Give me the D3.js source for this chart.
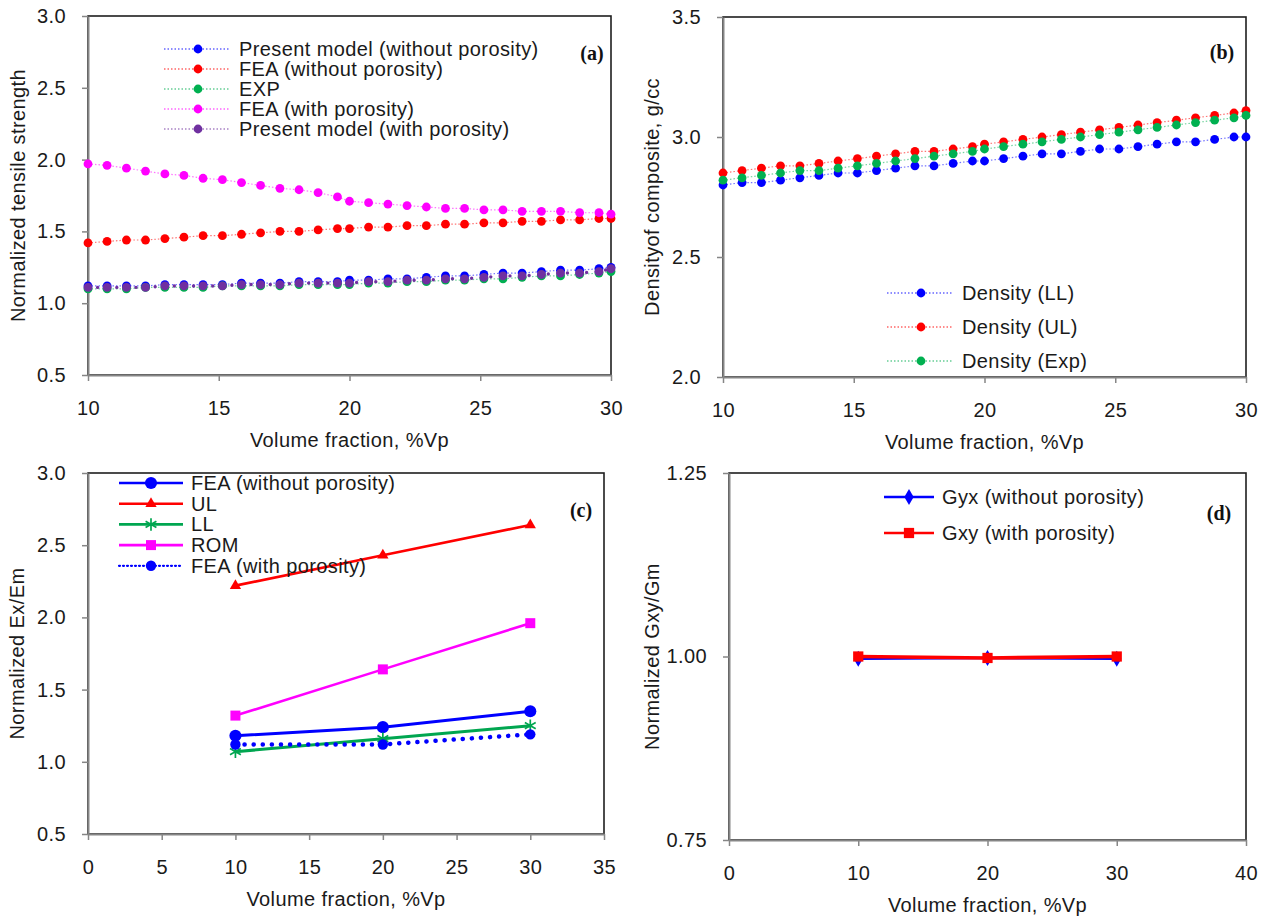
<!DOCTYPE html>
<html lang="en">
<head>
  <meta charset="utf-8" />
  <title>Composite properties vs volume fraction</title>
  <script src="https://cdnjs.cloudflare.com/ajax/libs/d3/7.8.5/d3.min.js"></script>
  <style>
    body { margin: 0; background: #fff; }
    svg { display: block; font-family: "Liberation Sans", Arial, sans-serif; }
  </style>
</head>
<body>
<svg id="chart" width="1270" height="918"></svg>
<script>
  // ---- (a) and (b): volume fractions of the plotted points
  const vfFine = [10, 10.73, 11.47, 12.2, 12.94, 13.67, 14.4, 15.14, 15.87, 16.6, 17.34, 18.07, 18.8, 19.54, 20,
                  20.73, 21.47, 22.2, 22.94, 23.67, 24.4, 25.14, 25.87, 26.6, 27.34, 28.07, 28.8, 29.54, 30];

  // (a) normalized tensile strength
  const modelNoPor = [1.12, 1.12, 1.12, 1.12, 1.13, 1.13, 1.13, 1.13, 1.14, 1.14, 1.14, 1.15, 1.15, 1.15, 1.16,
                      1.16, 1.17, 1.17, 1.18, 1.19, 1.19, 1.20, 1.21, 1.21, 1.22, 1.23, 1.23, 1.24, 1.25];
  const feaNoPorA  = [1.42, 1.43, 1.44, 1.44, 1.45, 1.46, 1.47, 1.47, 1.48, 1.49, 1.50, 1.50, 1.51, 1.52, 1.52,
                      1.53, 1.53, 1.54, 1.54, 1.55, 1.55, 1.56, 1.56, 1.57, 1.57, 1.58, 1.58, 1.59, 1.59];
  const expA       = [1.10, 1.10, 1.10, 1.11, 1.11, 1.11, 1.11, 1.12, 1.12, 1.12, 1.12, 1.13, 1.13, 1.13, 1.13,
                      1.14, 1.14, 1.15, 1.15, 1.16, 1.16, 1.17, 1.17, 1.18, 1.19, 1.19, 1.20, 1.21, 1.22];
  const feaPorA    = [1.97, 1.96, 1.94, 1.92, 1.90, 1.89, 1.87, 1.86, 1.84, 1.82, 1.80, 1.79, 1.77, 1.74, 1.71,
                      1.70, 1.69, 1.68, 1.67, 1.66, 1.66, 1.65, 1.65, 1.64, 1.64, 1.64, 1.63, 1.63, 1.62];
  const modelPor   = [1.11, 1.11, 1.11, 1.11, 1.12, 1.12, 1.12, 1.12, 1.13, 1.13, 1.13, 1.14, 1.14, 1.14, 1.14,
                      1.15, 1.15, 1.16, 1.16, 1.17, 1.17, 1.18, 1.19, 1.19, 1.20, 1.21, 1.21, 1.22, 1.24];

  // (b) density of composite, g/cc
  const densLL  = [2.80, 2.81, 2.81, 2.82, 2.83, 2.84, 2.85, 2.85, 2.86, 2.87, 2.88, 2.88, 2.89, 2.90, 2.90,
                   2.91, 2.92, 2.93, 2.93, 2.94, 2.95, 2.95, 2.96, 2.97, 2.98, 2.98, 2.99, 3.00, 3.00];
  const densUL  = [2.85, 2.86, 2.87, 2.88, 2.88, 2.89, 2.90, 2.91, 2.92, 2.93, 2.94, 2.94, 2.95, 2.96, 2.97,
                   2.98, 2.99, 3.00, 3.01, 3.02, 3.03, 3.04, 3.05, 3.06, 3.07, 3.08, 3.09, 3.10, 3.11];
  const densExp = [2.82, 2.83, 2.84, 2.85, 2.86, 2.86, 2.87, 2.88, 2.89, 2.90, 2.91, 2.92, 2.93, 2.94, 2.95,
                   2.96, 2.97, 2.98, 2.99, 3.00, 3.01, 3.02, 3.03, 3.04, 3.05, 3.06, 3.07, 3.08, 3.09];

  // ---- (c) and (d)
  const vfCoarse = [10, 20, 30];
  const exFeaNoPor = [1.18, 1.24, 1.35];
  const exUL       = [2.22, 2.43, 2.64];
  const exLL       = [1.07, 1.16, 1.25];
  const exROM      = [1.32, 1.64, 1.96];
  const exFeaPor   = [1.12, 1.12, 1.19];
  const gyxNoPor   = [0.997, 0.998, 0.997];
  const gxyPor     = [1.000, 0.998, 1.000];

  const ticksA = [0.5, 1.0, 1.5, 2.0, 2.5, 3.0];
  const ticksB = [2.0, 2.5, 3.0, 3.5];
  const ticksD = [0.75, 1.00, 1.25];
  const xTicksAB = [10, 15, 20, 25, 30];
  const xTicksC = [0, 5, 10, 15, 20, 25, 30, 35];
  const xTicksD = [0, 10, 20, 30, 40];

  const svg = d3.select("#chart");
  const gray = "#868686";
  const ink = "#1a1a1a";

  // shared look of every label in the figure
  function label(sel) {
    return sel.attr("font-size", 20).attr("letter-spacing", 0.4).attr("fill", ink);
  }

  function panel(box, xDom, xTicks, yDom, yTicks, yFmt, yTitle, tag) {
    const x = d3.scaleLinear().domain(xDom).range([box.left, box.right]);
    const y = d3.scaleLinear().domain(yDom).range([box.bottom, box.top]);
    const g = svg.append("g");

    g.append("rect")
      .attr("x", box.left).attr("y", box.top)
      .attr("width", box.right - box.left).attr("height", box.bottom - box.top)
      .attr("fill", "none").attr("stroke", "#1e1e1e").attr("stroke-width", 1.6);

    const ax = g.append("g")
      .attr("transform", "translate(0," + box.bottom + ")")
      .call(d3.axisBottom(x).tickValues(xTicks).tickSize(6).tickSizeOuter(0).tickPadding(20).tickFormat(d3.format("d")));
    const ay = g.append("g")
      .attr("transform", "translate(" + box.left + ",0)")
      .call(d3.axisLeft(y).tickValues(yTicks).tickSize(6).tickSizeOuter(0).tickPadding(16).tickFormat(d3.format(yFmt)));
    [ax, ay].forEach(a => {
      a.select(".domain").attr("stroke", gray).attr("stroke-width", 2);
      a.selectAll(".tick line").attr("stroke", gray).attr("stroke-width", 1.5);
      label(a.selectAll("text")).attr("font-family", null);
    });

    label(g.append("text"))
      .attr("x", (box.left + box.right) / 2)
      .attr("y", box.bottom + 72)
      .attr("text-anchor", "middle")
      .text("Volume fraction, %Vp");

    label(g.append("text"))
      .attr("transform", "translate(" + box.ytx + "," + (box.top + box.bottom) / 2 + ") rotate(-90)")
      .attr("dy", "0.35em")
      .attr("text-anchor", "middle")
      .text(yTitle);

    g.append("text")
      .attr("x", box.tag[0]).attr("y", box.tag[1])
      .attr("dy", "0.35em").attr("text-anchor", "middle")
      .attr("font-family", "'Liberation Serif', 'Times New Roman', serif")
      .attr("font-weight", "bold").attr("font-size", 20).attr("fill", "#111")
      .text(tag);

    return { x, y, g };
  }

  // dotted series with a marker on every point, used in (a) and (b)
  function dottedSeries(p, xs, ys, color, heavy) {
    const pts = xs.map((v, i) => [v, ys[i]]);
    const line = p.g.append("path").datum(pts)
      .attr("d", d3.line().x(d => p.x(d[0])).y(d => p.y(d[1])))
      .attr("fill", "none").attr("stroke", color);
    if (heavy) {
      line.attr("stroke-width", 3.4).attr("stroke-dasharray", "0 9.6").attr("stroke-linecap", "round");
    } else {
      line.attr("stroke-width", 1.2).attr("stroke-dasharray", "1.5 2").attr("opacity", 0.55);
    }
    p.g.selectAll(null).data(pts).join("circle")
      .attr("cx", d => p.x(d[0])).attr("cy", d => p.y(d[1]))
      .attr("r", 4.4).attr("fill", color);
  }

  function dottedLegend(p, items, x0, y0, step) {
    items.forEach((it, i) => {
      const yy = y0 + i * step;
      p.g.append("line")
        .attr("x1", x0).attr("x2", x0 + 66).attr("y1", yy).attr("y2", yy)
        .attr("stroke", it[1]).attr("stroke-width", 1.3).attr("stroke-dasharray", "1.5 2").attr("opacity", 0.6);
      p.g.append("circle").attr("cx", x0 + 34).attr("cy", yy).attr("r", 4.4).attr("fill", it[1]);
      label(p.g.append("text")).attr("x", x0 + 75).attr("y", yy).attr("dy", "0.35em").text(it[0]);
    });
  }

  function sym(type, size) { return d3.symbol().type(type).size(size)(); }

  function solidSeries(p, xs, ys, color, marker, opts) {
    const pts = xs.map((v, i) => [v, ys[i]]);
    const path = p.g.append("path").datum(pts)
      .attr("d", d3.line().x(d => p.x(d[0])).y(d => p.y(d[1])))
      .attr("fill", "none").attr("stroke", color).attr("stroke-width", opts.width || 3);
    if (opts.dash) path.attr("stroke-dasharray", opts.dash).attr("stroke-linecap", "round");
    p.g.selectAll(null).data(pts).join("path")
      .attr("transform", d => "translate(" + p.x(d[0]) + "," + p.y(d[1]) + ")")
      .attr("d", marker)
      .attr("fill", opts.hollow ? "none" : color)
      .attr("stroke", opts.hollow ? color : "none").attr("stroke-width", 1.7);
  }

  function solidLegend(p, items, x0, y0, step, len) {
    items.forEach((it, i) => {
      const yy = y0 + i * step;
      const l = p.g.append("line")
        .attr("x1", x0).attr("x2", x0 + len).attr("y1", yy).attr("y2", yy)
        .attr("stroke", it.color).attr("stroke-width", it.dash ? 2.2 : 2.6);
      if (it.dash) l.attr("stroke-dasharray", "1 3").attr("stroke-linecap", "round");
      p.g.append("path").attr("transform", "translate(" + (x0 + len / 2) + "," + yy + ")")
        .attr("d", it.marker)
        .attr("fill", it.hollow ? "none" : it.color)
        .attr("stroke", it.hollow ? it.color : "none").attr("stroke-width", 1.7);
      label(p.g.append("text")).attr("x", x0 + len + 8).attr("y", yy).attr("dy", "0.35em").text(it.label);
    });
  }

  // ---- (a)
  const pa = panel({ left: 88, right: 611, top: 16, bottom: 375, ytx: 18, tag: [592, 53] },
    [10, 30], xTicksAB, [0.5, 3.0], ticksA, ".1f", "Normalized tensile strength", "(a)");
  dottedSeries(pa, vfFine, modelNoPor, "#0000ff");
  dottedSeries(pa, vfFine, feaNoPorA, "#ff0000");
  dottedSeries(pa, vfFine, expA, "#00b050");
  dottedSeries(pa, vfFine, feaPorA, "#ff00ff");
  dottedSeries(pa, vfFine, modelPor, "#7030a0", true);
  dottedLegend(pa, [
    ["Present model (without porosity)", "#0000ff"],
    ["FEA (without porosity)", "#ff0000"],
    ["EXP", "#00b050"],
    ["FEA (with porosity)", "#ff00ff"],
    ["Present model (with porosity)", "#7030a0"]
  ], 164, 49, 20);

  // ---- (b)
  const pb = panel({ left: 723, right: 1246, top: 17, bottom: 377, ytx: 652, tag: [1222, 52] },
    [10, 30], xTicksAB, [2.0, 3.5], ticksB, ".1f", "Densityof composite, g/cc", "(b)");
  dottedSeries(pb, vfFine, densLL, "#0000ff");
  dottedSeries(pb, vfFine, densUL, "#ff0000");
  dottedSeries(pb, vfFine, densExp, "#00b050");
  dottedLegend(pb, [
    ["Density (LL)", "#0000ff"],
    ["Density (UL)", "#ff0000"],
    ["Density (Exp)", "#00b050"]
  ], 887, 293, 34);

  // ---- (c)
  const pc = panel({ left: 88, right: 604, top: 473, bottom: 834, ytx: 17, tag: [581, 510] },
    [0, 35], xTicksC, [0.5, 3.0], ticksA, ".1f", "Normalized Ex/Em", "(c)");
  const cItems = [
    { label: "FEA (without porosity)", color: "#0000ff", marker: sym(d3.symbolCircle, 115) },
    { label: "UL", color: "#ff0000", marker: sym(d3.symbolTriangle, 55) },
    { label: "LL", color: "#00a650", marker: sym(d3.symbolAsterisk, 110), hollow: true },
    { label: "ROM", color: "#ff00ff", marker: sym(d3.symbolSquare, 100) },
    { label: "FEA (with porosity)", color: "#0000ff", marker: sym(d3.symbolCircle, 85), dash: true }
  ];
  solidSeries(pc, vfCoarse, exFeaNoPor, "#0000ff", cItems[0].marker, { width: 3 });
  solidSeries(pc, vfCoarse, exUL, "#ff0000", cItems[1].marker, { width: 2.6 });
  solidSeries(pc, vfCoarse, exLL, "#00a650", cItems[2].marker, { width: 3, hollow: true });
  solidSeries(pc, vfCoarse, exROM, "#ff00ff", cItems[3].marker, { width: 2.6 });
  solidSeries(pc, vfCoarse, exFeaPor, "#0000ff", cItems[4].marker, { width: 4.5, dash: "0.1 9" });
  solidLegend(pc, cItems, 119, 483, 20.7, 64);

  // ---- (d)
  const pd = panel({ left: 729, right: 1246, top: 473, bottom: 840, ytx: 652, tag: [1219, 513] },
    [0, 40], xTicksD, [0.75, 1.25], ticksD, ".2f", "Normalized Gxy/Gm", "(d)");
  const dItems = [
    { label: "Gyx (without porosity)", color: "#0000ff", marker: sym(d3.symbolDiamond, 75) },
    { label: "Gxy (with porosity)", color: "#ff0000", marker: sym(d3.symbolSquare, 105) }
  ];
  solidSeries(pd, vfCoarse, gyxNoPor, "#0000ff", dItems[0].marker, { width: 2.6 });
  solidSeries(pd, vfCoarse, gxyPor, "#ff0000", dItems[1].marker, { width: 3.6 });
  solidLegend(pd, dItems, 884, 497, 36, 50);
</script>
</body>
</html>
